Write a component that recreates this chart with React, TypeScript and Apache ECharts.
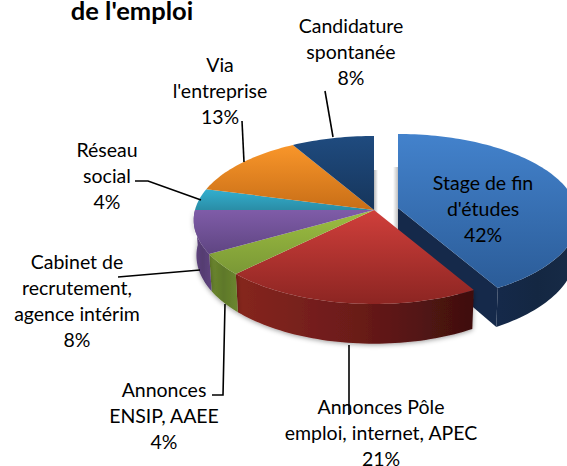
import React, { useEffect, useRef } from "react";
import * as echarts from "echarts";

const titleText = "de l'emploi";
const categories = [
  "Stage de fin\nd'études",
  "Annonces Pôle\nemploi, internet, APEC",
  "Annonces\nENSIP, AAEE",
  "Cabinet de\nrecrutement,\nagence intérim",
  "Réseau\nsocial",
  "Via\nl'entreprise",
  "Candidature\nspontanée",
];
const counts = [10, 5, 1, 2, 1, 3, 2];

const topColors = [
  ["#4382CC", "#2B5C98"],
  ["#D03F3B", "#8C2522"],
  ["#9DBE41", "#7A9836"],
  ["#7F5CA8", "#5F4582"],
  ["#33AFCF", "#2A8DA6"],
  ["#F9962A", "#C86E17"],
  ["#1F4B7F", "#16355B"],
];
const wallColors = [
  ["#15294A", "#142742", "#172B47"],
  ["#86261F", "#6B1B19", "#3E0F0E"],
  ["#6F8A30", "#5E7829", "#6C8730"],
  ["#5F457F", "#553C71", "#5F457F"],
  ["#267F96", "#267F96", "#267F96"],
  ["#A85C12", "#A85C12", "#A85C12"],
  ["#12294A", "#12294A", "#12294A"],
];

const labelCenters = [
  [483, 208],
  [381, 432],
  [164, 415],
  [77, 300],
  [107, 175],
  [220, 90],
  [351, 51],
];
const leaderLines = [
  [[325, 91], [333, 137]],
  [[242, 121], [244, 162]],
  [[135, 181], [148, 181], [201, 200]],
  [[118, 277], [200, 270]],
  [[212, 395], [223, 395], [225, 304]],
  [[349, 345], [349, 415]],
];

const CX = 374, CY = 210, RX = 179, RY = 82.8, K = 0.119, DEPTH = 35, EXPLODE_X = 24, EXPLODE_Y = -2;

function rim(deg: number, ox: number, oy: number, lower: boolean) {
  const a = (deg * Math.PI) / 180;
  const X = Math.sin(a), Z = -Math.cos(a);
  const s = 1 / (1 - K * Z);
  const f = lower ? 0.985 : 1;
  return [CX + ox + RX * X * s * f, CY + oy + RY * Z * s + (lower ? DEPTH * s : 0)];
}
function arc(from: number, to: number, ox: number, oy: number, lower: boolean) {
  const pts: number[][] = [];
  const n = Math.max(2, Math.ceil(Math.abs(to - from) / 1.5));
  for (let i = 0; i <= n; i++) pts.push(rim(from + ((to - from) * i) / n, ox, oy, lower));
  return pts;
}

export default function App() {
  const ref = useRef<HTMLDivElement>(null);
  useEffect(() => {
    const chart = echarts.init(ref.current!, undefined, { renderer: "svg" });
    const total = counts.reduce((a, b) => a + b, 0);
    const grad = (c: string[], h: boolean) =>
      new echarts.graphic.LinearGradient(0, 0, h ? 1 : 0, h ? 0 : 1,
        c.map((color, i) => ({ offset: i / (c.length - 1), color })));

    const renderItem = (params: any, api: any) => {
      const i = params.dataIndex;
      const start = (counts.slice(0, i).reduce((a, b) => a + b, 0) / total) * 360;
      const end = start + (api.value(0) / total) * 360;
      const ox = i === 0 ? EXPLODE_X : 0;
      const oy = i === 0 ? EXPLODE_Y : 0;
      const children: any[] = [];
      const a0 = Math.max(start, 90), a1 = Math.min(end, 270);
      const shadow = { shadowBlur: 5, shadowColor: "rgba(0,0,0,0.4)", shadowOffsetY: 1 };
      if (i === 0) {
        const e = rim(end, ox, oy, false), eb = rim(end, ox, oy, true);
        const ax = CX + ox, ay = CY + oy;
        children.push({
          type: "polygon",
          shape: { points: [[ax, ay], e, eb, [ax, ay + DEPTH]] },
          style: { fill: "#15294A" },
        });
      }
      if (a1 > a0) {
        const upper = arc(a0, a1, ox, oy, false);
        const lower = arc(a0, a1, ox, oy, true).reverse();
        children.push({
          type: "polygon",
          shape: { points: upper.concat(lower) },
          style: {
            fill: grad(wallColors[i], true),
            ...(i === 0 ? {} : shadow),
          },
        });
      }
      children.push({
        type: "polygon",
        shape: { points: [[CX + ox, CY + oy], ...arc(start, end, ox, oy, false)] },
        style: { fill: grad(topColors[i], false) },
      });
      return { type: "group", children };
    };

    const labels = categories.map((c, i) => ({
      type: "text",
      x: labelCenters[i][0],
      y: labelCenters[i][1],
      z: 20,
      style: {
        text: `${c}\n${Math.round((counts[i] / total) * 100)}%`,
        fontFamily: "Lato",
        fontSize: 19.5,
        lineHeight: 26,
        fill: "#000",
        align: "center",
        verticalAlign: "middle",
      },
    }));
    const lines = leaderLines.map((points) => ({
      type: "polyline",
      z: 10,
      shape: { points },
      style: { stroke: "#000", lineWidth: 1.6, fill: "none" },
    }));
    const softEdge = (x: number, y: number, width: number, height: number, c0: string, c1: string) => ({
      type: "rect",
      z: 0,
      shape: { x, y, width, height },
      style: { fill: new echarts.graphic.LinearGradient(0, 0, 1, 0, [{ offset: 0, color: c0 }, { offset: 1, color: c1 }]) },
    });

    chart.setOption({
      animation: false,
      backgroundColor: "#fff",
      graphic: [
        softEdge(374, 170, 4, 42, "rgba(0,0,0,0.28)", "rgba(0,0,0,0)"),
        softEdge(393, 167, 5, 62, "rgba(0,0,0,0)", "rgba(0,0,0,0.25)"),
        {
          type: "text",
          x: 132,
          y: 10,
          z: 20,
          style: {
            text: titleText,
            fontFamily: "Lato",
            fontWeight: "bold",
            fontSize: 25.5,
            lineHeight: 20,
            fill: "#000",
            align: "center",
            verticalAlign: "middle",
          },
        },
        ...lines,
        ...labels,
      ],
      series: [
        {
          type: "custom",
          coordinateSystem: "none",
          silent: true,
          renderItem,
          data: counts.map((v) => [v]),
        },
      ],
    });
    return () => chart.dispose();
  }, []);
  return <div ref={ref} style={{ position: "absolute", left: 0, top: 0, width: 567, height: 466 }} />;
}
